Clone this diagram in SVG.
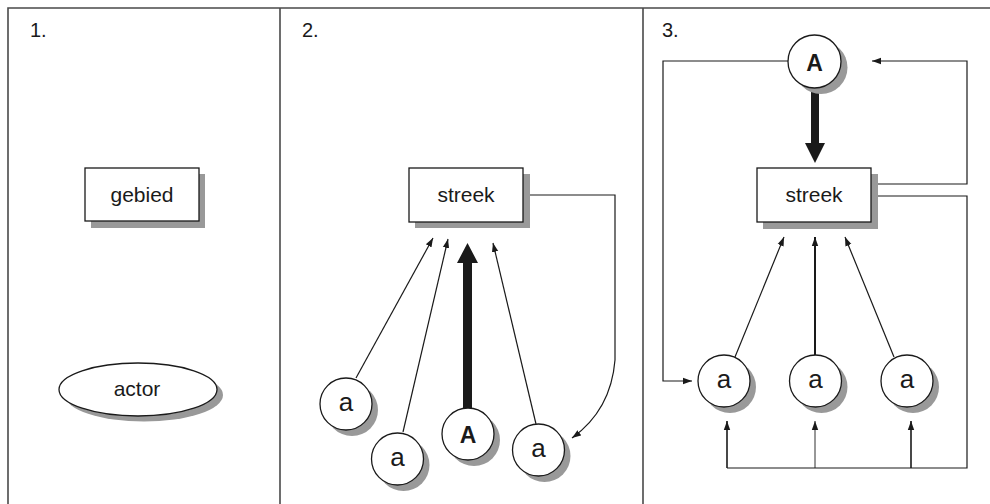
<svg xmlns="http://www.w3.org/2000/svg" width="990" height="504" viewBox="0 0 990 504">
<style>
.frame{fill:none;stroke:#4a4a4a;stroke-width:1.6}
.box{fill:#fff;stroke:#1a1a1a;stroke-width:1.3}
.shadow{fill:#999;stroke:none}
.lbl{font-family:"Liberation Sans",Arial,sans-serif;font-size:21px;fill:#1a1a1a;text-anchor:middle}
.sm{font-size:26px}
.num{font-family:"Liberation Sans",Arial,sans-serif;font-size:20px;fill:#1a1a1a}
.bold{font-weight:bold;font-size:23px}
.ln{fill:none;stroke:#1a1a1a;stroke-width:1.2}
.arr{marker-end:url(#ah)}
.thick{fill:#1a1a1a;stroke:none}
</style>
<defs>
<marker id="ah" markerUnits="userSpaceOnUse" markerWidth="10" markerHeight="8" refX="9" refY="4" orient="auto">
<path d="M0,0.8 L9,4 L0,7.2 z" fill="#1a1a1a"/>
</marker>
</defs>
<rect width="990" height="504" fill="#fff"/>
<g id="frame">
<path class="frame" d="M8,512 V8 H992"/>
<path class="frame" d="M280,8 V512 M643,8 V512"/>
<text class="num" x="30" y="37">1.</text>
<text class="num" x="302" y="37">2.</text>
<text class="num" x="662" y="37">3.</text>
</g>
<g id="connectors">
<line class="ln arr" x1="356" y1="378" x2="433" y2="238"/>
<line class="ln arr" x1="403" y1="432" x2="448" y2="239"/>
<line class="ln arr" x1="536" y1="424" x2="493" y2="243"/>
<path class="ln arr" d="M530,195 H615 V360 Q611,410 572,438"/>
<path class="thick" d="M463,408 V263 H457 L467.5,243 L478,263 H472 V408 z"/>
<path class="thick" d="M811,88 V143 H805 L815,163 L825,143 H819 V88 z"/>
<path class="ln arr" d="M788,61 H663 V381 H692"/>
<path class="ln arr" d="M878,184 H967 V61 H872"/>
<path class="ln" d="M878,196 H967 V468 H727"/>
<line class="ln arr" x1="727" y1="468" x2="727" y2="421" style="stroke-width:1.6"/>
<line class="ln arr" x1="815" y1="468" x2="815" y2="421" style="stroke-width:0.9"/>
<line class="ln arr" x1="911" y1="468" x2="911" y2="421" style="stroke-width:1.6"/>
<line class="ln arr" x1="735" y1="357" x2="784" y2="237"/>
<line class="ln arr" x1="815" y1="355" x2="815" y2="237" style="stroke-width:2"/>
<line class="ln arr" x1="894" y1="357" x2="845" y2="237"/>
</g>
<g id="gebied">
<rect class="shadow" x="91" y="174" width="114" height="54"/>
<rect class="box" x="85" y="168" width="114" height="53"/>
<text class="lbl" x="142" y="202">gebied</text>
</g>
<g id="actor">
<ellipse class="shadow" cx="144" cy="395" rx="79" ry="26.5"/>
<ellipse class="box" cx="138" cy="389.5" rx="79" ry="26.5"/>
<text class="lbl" x="137" y="396">actor</text>
</g>
<g id="streek2">
<rect class="shadow" x="415" y="174" width="115" height="54"/>
<rect class="box" x="409" y="168" width="114" height="54"/>
<text class="lbl" x="466" y="202">streek</text>
</g>
<g id="a2-1">
<circle class="shadow" cx="352" cy="410" r="26"/>
<circle class="box" cx="346" cy="404" r="26"/>
<text class="lbl sm" x="346" y="411">a</text>
</g>
<g id="a2-2">
<circle class="shadow" cx="403.5" cy="465" r="26"/>
<circle class="box" cx="397.5" cy="459" r="26"/>
<text class="lbl sm" x="397.5" y="466">a</text>
</g>
<g id="A2">
<circle class="shadow" cx="474" cy="440" r="26"/>
<circle class="box" cx="468" cy="434" r="26"/>
<text class="lbl bold" x="468" y="443">A</text>
</g>
<g id="a2-4">
<circle class="shadow" cx="544.5" cy="456" r="26"/>
<circle class="box" cx="538.5" cy="450" r="26"/>
<text class="lbl sm" x="538.5" y="457">a</text>
</g>
<g id="A3">
<circle class="shadow" cx="821" cy="67.5" r="26.5"/>
<circle class="box" cx="814.5" cy="61.5" r="26.5"/>
<text class="lbl bold" x="814.5" y="70.5">A</text>
</g>
<g id="streek3">
<rect class="shadow" x="763" y="174" width="115" height="55"/>
<rect class="box" x="757" y="168" width="114" height="54"/>
<text class="lbl" x="814" y="202">streek</text>
</g>
<g id="a3-1">
<circle class="shadow" cx="730" cy="387" r="26"/>
<circle class="box" cx="724" cy="381" r="26"/>
<text class="lbl sm" x="724" y="388">a</text>
</g>
<g id="a3-2">
<circle class="shadow" cx="821.5" cy="387" r="26"/>
<circle class="box" cx="815.5" cy="381" r="26"/>
<text class="lbl sm" x="815.5" y="388">a</text>
</g>
<g id="a3-3">
<circle class="shadow" cx="913" cy="387" r="26"/>
<circle class="box" cx="907" cy="381" r="26"/>
<text class="lbl sm" x="907" y="388">a</text>
</g>
</svg>
